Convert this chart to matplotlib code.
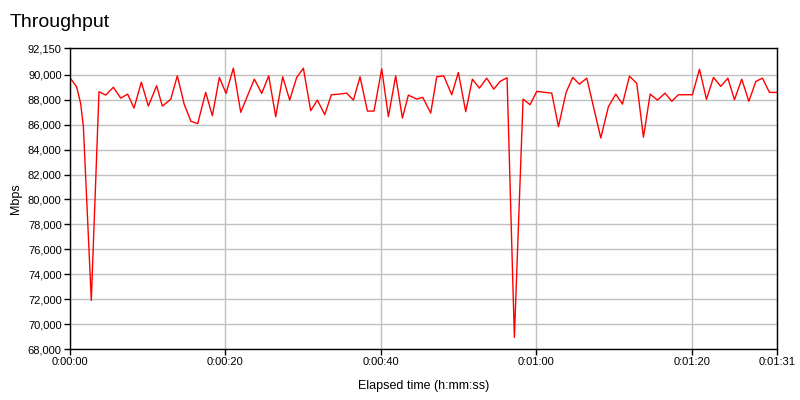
import numpy as np
import matplotlib
matplotlib.use('Agg')
import matplotlib.pyplot as plt
from matplotlib.ticker import FuncFormatter

plt.rcParams['font.family'] = ['Liberation Sans', 'DejaVu Sans']

# elapsed time (s) and throughput (Mbps)
elapsed = [0.0, 0.85, 1.37, 1.72, 2.74, 3.73, 4.6, 5.58, 6.52, 7.42, 8.24, 9.18, 10.08,
           11.15, 11.88, 12.96, 13.81, 14.71, 15.57, 16.43, 17.46, 18.32, 19.22, 20.08,
           21.02, 21.97, 23.72, 24.67, 25.57, 26.47, 27.37, 28.27, 29.17, 30.03, 30.97,
           31.83, 32.78, 33.63, 34.66, 35.6, 36.47, 37.32, 38.27, 39.12, 40.11, 40.97,
           41.91, 42.77, 43.54, 44.62, 45.39, 46.42, 47.19, 48.09, 49.12, 49.97, 50.92,
           51.78, 52.68, 53.62, 54.53, 55.34, 56.24, 57.18, 58.3, 59.2, 60.06, 61.0,
           61.99, 62.85, 63.84, 64.69, 65.55, 66.5, 68.3, 69.28, 70.23, 71.09, 71.99,
           72.93, 73.79, 74.65, 75.59, 76.57, 77.43, 78.29, 80.09, 81.0, 81.9, 82.8,
           83.74, 84.65, 85.5, 86.44, 87.35, 88.25, 89.1, 90.0, 91.0]
mbps = [89760, 89040, 87700, 85840, 71900, 88640, 88370, 89000, 88130, 88450, 87330,
        89410, 87490, 89120, 87490, 88030, 89920, 87600, 86270, 86080, 88590, 86720,
        89790, 88510, 90530, 86990, 89650, 88510, 89920, 86640, 89840, 87970, 89790,
        90530, 87120, 87970, 86800, 88400, 88450, 88530, 87970, 89840, 87090, 87090,
        90480, 86640, 89920, 86530, 88370, 88050, 88190, 86930, 89840, 89920, 88400,
        90190, 87040, 89650, 88930, 89730, 88850, 89470, 89760, 68930, 88050, 87600,
        88670, 88600, 88530, 85840, 88590, 89790, 89250, 89730, 84930, 87440, 88450,
        87650, 89890, 89310, 84990, 88450, 87970, 88530, 87870, 88400, 88400, 90450,
        88030, 89790, 89070, 89730, 88000, 89650, 87870, 89470, 89730, 88590, 88590]

y_ticks = [68000, 70000, 72000, 74000, 76000, 78000, 80000, 82000, 84000, 86000,
           88000, 90000, 92150]
x_ticks = [0, 20, 40, 60, 80, 91]


def hms(sec, pos=None):
    sec = int(round(sec))
    return '%d:%02d:%02d' % (sec // 3600, (sec % 3600) // 60, sec % 60)


fig = plt.figure(figsize=(8, 4), dpi=100)
ax = fig.add_axes([0.0875, 0.1275, 0.884, 0.7525])

ax.plot(elapsed, mbps, color='red', lw=1)

ax.set_xlim(0, 91)
ax.set_ylim(68000, 92150)
ax.set_yticks(y_ticks)
ax.set_xticks(x_ticks)
ax.yaxis.set_major_formatter(FuncFormatter(lambda v, p: '{:,.0f}'.format(v)))
ax.xaxis.set_major_formatter(FuncFormatter(hms))
ax.grid(True, color='#c0c0c0', lw=1)
ax.tick_params(direction='out', length=4, width=1, labelsize=8, colors='black', pad=2)
for s in ax.spines.values():
    s.set_linewidth(1)
    s.set_color('black')

ax.set_xlabel('Elapsed time (h:mm:ss)', fontsize=9, labelpad=9)
ax.set_ylabel('Mbps', fontsize=9, labelpad=4)
fig.text(0.0125, 0.943, 'Throughput', fontsize=14, ha='left', va='center')

fig.savefig('out.png', dpi=100)
